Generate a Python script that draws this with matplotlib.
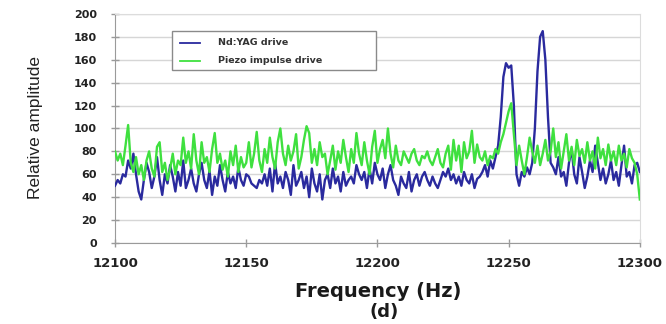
import numpy as np
import matplotlib
matplotlib.use("Agg")
import matplotlib.pyplot as plt
from matplotlib.patches import Rectangle
from matplotlib.lines import Line2D

# Frequency axis, 1 Hz steps
freq_start = 12100
freq_stop = 12300

# Nd:YAG drive response
ndyag = [
    50, 55, 52, 60, 58, 72, 65, 78, 60, 45,
    38, 55, 70, 62, 48, 58, 75, 55, 42, 60,
    52, 68, 58, 45, 62, 50, 72, 48, 55, 65,
    52, 45, 60, 70, 55, 48, 63, 42, 58, 50,
    68, 55, 45, 62, 52, 58, 48, 66, 55, 50,
    60, 58, 52, 50, 48, 55, 52, 60, 50, 65,
    45, 70, 52, 58, 48, 62, 55, 42, 68, 50,
    55, 62, 48, 58, 40, 65, 52, 45, 60, 38,
    55, 60, 48, 65, 52, 58, 45, 62, 50, 55,
    58, 52, 68, 60, 55, 62, 48, 65, 52, 70,
    60, 55, 65, 48, 60, 68, 55, 50, 42, 58,
    52, 48, 62, 45, 55, 60, 50, 58, 62, 55,
    50, 58, 52, 48, 55, 62, 58, 65, 55, 60,
    52, 58, 50, 62, 55, 52, 60, 48, 56, 58,
    62, 68, 58, 72, 65, 75, 85, 110, 145, 157,
    153, 155, 120, 60, 50, 62, 58, 66, 60, 70,
    100, 150, 180, 185, 160, 110, 70, 66, 60, 75,
    58, 62, 50, 70, 82, 60, 52, 75, 62, 48,
    58, 72, 62, 85, 70, 55, 65, 52, 60, 72,
    55, 62, 50, 68, 85, 58, 62, 52, 68, 70,
    62,
]

# Piezo impulse drive response
piezo = [
    80, 72, 78, 68, 85, 103, 70, 62, 75, 60,
    68, 55, 72, 80, 65, 58, 84, 88, 62, 70,
    55, 65, 78, 60, 72, 68, 92, 70, 80, 65,
    95, 72, 60, 88, 70, 75, 62, 82, 96, 70,
    78, 64, 72, 58, 80, 68, 85, 62, 75, 66,
    70, 88, 66, 78, 97, 72, 62, 82, 70, 92,
    75, 65, 88, 100, 78, 68, 85, 72, 80, 95,
    65, 75, 90, 102, 96, 70, 82, 68, 88, 75,
    78, 60, 72, 85, 64, 80, 70, 90, 75, 62,
    82, 70, 96, 78, 68, 88, 72, 60, 84, 98,
    70, 82, 90, 74, 100, 78, 66, 85, 72, 68,
    80, 75, 70, 78, 82, 72, 68, 76, 74, 80,
    72, 68, 75, 82, 70, 66, 78, 85, 64, 90,
    72, 85, 62, 88, 74, 80, 98, 70, 86, 75,
    72, 80, 68, 76, 74, 82, 78, 88, 95, 105,
    115, 122, 95, 68, 85, 72, 60, 75, 92, 80,
    70, 85, 68, 78, 90, 72, 80, 100, 75, 88,
    65, 80, 95, 72, 84, 68, 90, 76, 82, 70,
    88, 72, 80, 65, 92, 74, 82, 68, 86, 72,
    80, 68, 85, 72, 78, 66, 82, 74, 70, 60,
    38,
]

series_names = ["Nd:YAG drive", "Piezo impulse drive"]
series_colors = ["#2a2a9e", "#3fe03f"]

freq = np.arange(freq_start, freq_stop + 1)

bold = dict(family=["DejaVu Sans"], weight="bold")

fig = plt.figure(figsize=(6.66, 3.24), dpi=100)
ax = fig.add_axes([0.1727, 0.25, 0.788, 0.707])

for vals, name, col, z in zip([ndyag, piezo], series_names, series_colors, [3, 4]):
    ax.plot(freq, vals, color=col, lw=1.7, label=name, zorder=z)

ax.set_xlim(freq_start, freq_stop)
ax.set_ylim(0, 200)
ax.set_xticks(np.arange(12100, 12301, 50))
ax.set_yticks(np.arange(0, 201, 20))
ax.yaxis.grid(True, color="#d6d6d6", lw=1.0)
ax.set_axisbelow(True)

for side in ["left", "bottom"]:
    ax.spines[side].set_color("#9a9a9a")
for side in ["top", "right"]:
    ax.spines[side].set_color("#dcdcdc")
ax.tick_params(axis="both", direction="inout", length=6, color="#9a9a9a", width=1)
ax.tick_params(axis="x", pad=7)
ax.tick_params(axis="y", pad=10)

for t in ax.get_xticklabels():
    t.set(fontsize=9.5, color="#222222", **bold)
for t in ax.get_yticklabels():
    t.set(fontsize=8, color="#222222", **bold)

fig.text(0.568, 0.10, "Frequency (Hz)", ha="center", va="center",
         fontsize=14, color="#1a1a1a", **bold)
fig.text(0.577, 0.038, "(d)", ha="center", va="center",
         fontsize=13, color="#1a1a1a", **bold)
fig.text(0.053, 0.605, "Relative amplitude", rotation=90, ha="center", va="center",
         fontsize=12.5, color="#222222",
         family=["Liberation Sans Narrow", "Liberation Sans", "DejaVu Sans"])

# legend box drawn by hand so its size can be set
box_x0, box_x1 = 0.1086, 0.497
box_y0, box_y1 = 0.755, 0.926
ax.add_patch(Rectangle((box_x0, box_y0), box_x1 - box_x0, box_y1 - box_y0,
                       transform=ax.transAxes, facecolor="white",
                       edgecolor="#8a8a8a", lw=1.0, zorder=6))
row_y = [0.874, 0.795]
for name, col, y in zip(series_names, series_colors, row_y):
    ax.add_line(Line2D([0.124, 0.162], [y, y], transform=ax.transAxes,
                       color=col, lw=1.3, zorder=7))
    ax.text(0.197, y, name, transform=ax.transAxes, ha="left", va="center",
            fontsize=6.8, color="#333333", zorder=7, **bold)

fig.savefig("out.png", dpi=100)
